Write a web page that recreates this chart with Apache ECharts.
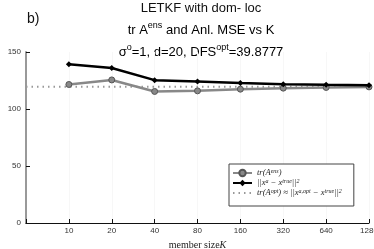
<!DOCTYPE html>
<html><head><meta charset="utf-8">
<script src="https://cdn.jsdelivr.net/npm/echarts@6/dist/echarts.min.js"></script>
<style>html,body{margin:0;padding:0;background:#fff}#c{width:374px;height:249px}</style>
</head><body><div id="c"></div>
<script>
const categories = ['', '10', '20', '40', '80', '160', '320', '640', '1280'];
const trAens = [121.5, 125.5, 115.4, 115.9, 117.4, 118.3, 118.9, 119.4];
const anlMSE = [139.3, 136.0, 125.3, 124.1, 122.9, 121.8, 121.2, 120.9];
const optLevel = 119.5;
const yTicks = [0, 50, 100, 150];

const chart = echarts.init(document.getElementById('c'), null, {renderer: 'canvas'});
const sans = 'Liberation Sans, Arial, Helvetica, sans-serif';
const serif = 'Liberation Serif, DejaVu Serif, serif';
const legendRich = {
  t: {fontFamily: serif, fontStyle: 'italic', fontSize: 8.5, color: '#222', lineHeight: 9},
  s: {fontFamily: serif, fontStyle: 'italic', fontSize: 6, color: '#222', padding: [0, 0, 4, 0], lineHeight: 9}
};
const names = ['tr(A^ens)', '||x^a - x^true||^2', 'tr(A^opt) ≈ ||x^a,opt - x^true||^2'];
const legendFmt = {};
legendFmt[names[0]] = '{t|tr(A}{s|ens}{t|)}';
legendFmt[names[1]] = '{t|||x}{s|a}{t| − x}{s|true}{t|||}{s|2}';
legendFmt[names[2]] = '{t|tr(A}{s|opt}{t|) ≈ ||x}{s|a,opt}{t| − x}{s|true}{t|||}{s|2}';

chart.setOption({
  animation: false,
  backgroundColor: '#fff',
  grid: {left: 26, right: 5, top: 52, bottom: 26, containLabel: false, outerBoundsMode: 'none'},
  graphic: [
    {type: 'text', left: 27, top: 12, style: {text: 'b)', font: '14px ' + sans, fill: '#111'}},
    {type: 'text', x: 201, y: 8, style: {text: 'LETKF with dom- loc', font: '13px ' + sans, fill: '#111', align: 'center', verticalAlign: 'middle'}},
    {type: 'text', x: 201, y: 30, style: {text: '{a|tr A}{b|ens}{a| and Anl. MSE vs K}', align: 'center', verticalAlign: 'middle',
      rich: {a: {fontFamily: sans, fontSize: 13, color: '#111'}, b: {fontFamily: sans, fontSize: 9, color: '#111', padding: [0, 0, 9, 0]}}}},
    {type: 'text', x: 201, y: 52, style: {text: '{a|σ}{b|o}{a|=1, d=20, DFS}{b|opt}{a|=39.8777}', align: 'center', verticalAlign: 'middle',
      rich: {a: {fontFamily: sans, fontSize: 13, color: '#111'}, b: {fontFamily: sans, fontSize: 9, color: '#111', padding: [0, 0, 9, 0]}}}}
  ],
  legend: {
    orient: 'vertical', left: 229, top: 164,
    padding: [4, 12, 8, 3], itemGap: 0, itemWidth: 19, itemHeight: 8,
    backgroundColor: '#fff', borderColor: '#444', borderWidth: 1, borderRadius: 0,
    data: [names[0], names[1], {name: names[2], itemStyle: {opacity: 0}}],
    formatter: n => legendFmt[n],
    textStyle: {rich: legendRich, fontSize: 8.5}
  },
  xAxis: {
    type: 'category', data: categories, boundaryGap: false,
    name: '{r|member size}{k|K}', nameLocation: 'middle', nameGap: 14,
    nameTextStyle: {rich: {r: {fontFamily: serif, fontSize: 10, color: '#222'}, k: {fontFamily: serif, fontSize: 10, fontStyle: 'italic', color: '#222'}}},
    axisLine: {lineStyle: {color: '#111', width: 1}},
    axisTick: {inside: true, length: 4, lineStyle: {color: '#111'}, interval: 0},
    axisLabel: {fontFamily: sans, fontSize: 8, color: '#333', margin: 4, interval: 0},
    splitLine: {show: true, lineStyle: {color: '#f7f7f7', width: 1}}
  },
  yAxis: {
    type: 'value', min: yTicks[0], max: yTicks[yTicks.length - 1], interval: 50,
    axisLine: {show: true, lineStyle: {color: '#999', width: 2}},
    axisTick: {show: true, inside: true, length: 4, lineStyle: {color: '#111'}},
    axisLabel: {fontFamily: sans, fontSize: 8, color: '#333', margin: 5},
    splitLine: {show: false}
  },
  series: [
    {name: names[0], type: 'line', data: [null].concat(trAens),
      lineStyle: {color: '#888', width: 2.5}, symbol: 'circle', symbolSize: 6,
      itemStyle: {color: '#888', borderColor: '#555', borderWidth: 1}, z: 3},
    {name: names[1], type: 'line', data: [null].concat(anlMSE),
      lineStyle: {color: '#000', width: 2.5}, symbol: 'diamond', symbolSize: 6,
      itemStyle: {color: '#000'}, z: 4},
    {name: names[2], type: 'line', data: categories.map(() => optLevel),
      lineStyle: {color: '#999', width: 2, type: [1.5, 4]}, symbol: 'none',
      itemStyle: {color: '#999'}, z: 2}
  ]
});
</script></body></html>
